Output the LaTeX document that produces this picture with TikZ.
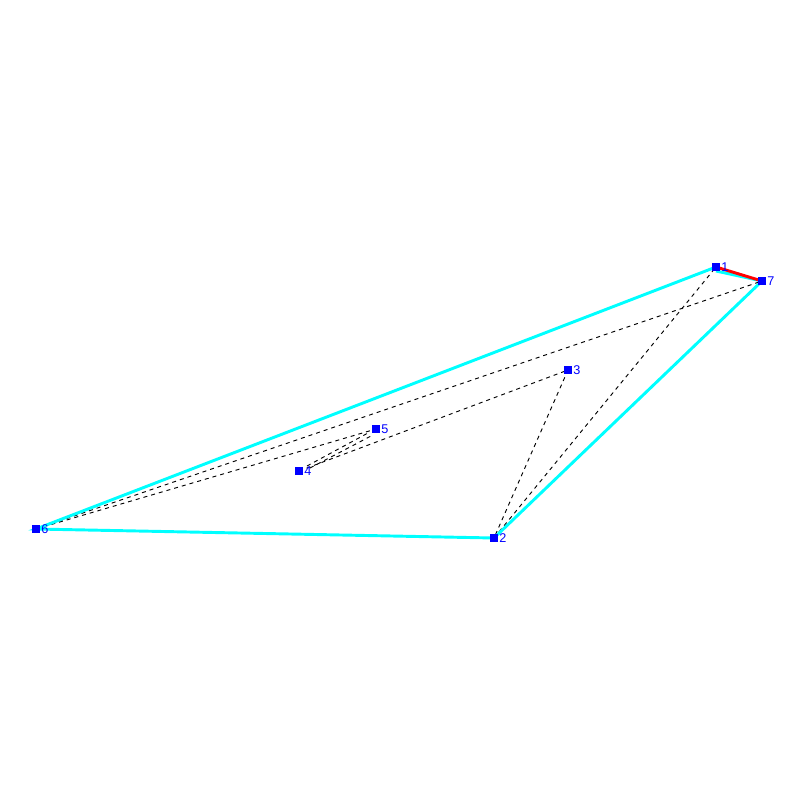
\documentclass[tikz,border=0pt]{standalone}
\usepackage{fontspec}
\setmainfont{Liberation Sans}
\usetikzlibrary{calc}
\begin{document}
\begin{tikzpicture}[x=0.75pt,y=-0.75pt,
  pt/.style={fill={rgb,255:red,0;green,0;blue,255},minimum size=6pt,inner sep=0pt,outer sep=0pt},
  lab/.style={text={rgb,255:red,0;green,0;blue,255},font=\fontsize{9.5}{9.5}\selectfont,inner sep=0pt,anchor=west},
  hull/.style={draw={rgb,255:red,0;green,255;blue,255},line width=2.2pt},
  dsh/.style={draw=black,line width=0.7pt,dash pattern=on 3pt off 3pt}]
\useasboundingbox (0,0) rectangle (800,800);
\coordinate (c1) at (716,267);
\coordinate (c2) at (494,538);
\coordinate (c3) at (568,370);
\coordinate (c4) at (299,471);
\coordinate (c5) at (376,429);
\coordinate (c6) at (36,529);
\coordinate (c7) at (762,281);
% dashed
\draw[dsh] (c6) -- (c7);
\draw[dsh] (c6) -- (c5);
\draw[dsh] ($(c4)+(8,-5)$) -- ($(c5)+(-8,4)$);
\draw[dsh] ($(c4)+(11,-3)$) -- ($(c5)+(-5,7)$);
\draw[dsh] (c4) -- (c3);
\draw[dsh] (c3) -- (c2);
\draw[dsh] (c2) -- (c1);
% hull
\draw[hull] (c1) -- (c6) -- (c2) -- (c7) -- ($(c1)+(0,4)$);
\draw[line width=2.2pt,red] (c1) -- (c7);
% points
\foreach \i in {1,...,7} {
  \node[pt] (p\i) at (c\i) {};
  \node[lab] (l\i) at ($(c\i)+(5,0.5)$) {\i};
}
\end{tikzpicture}
\end{document}
